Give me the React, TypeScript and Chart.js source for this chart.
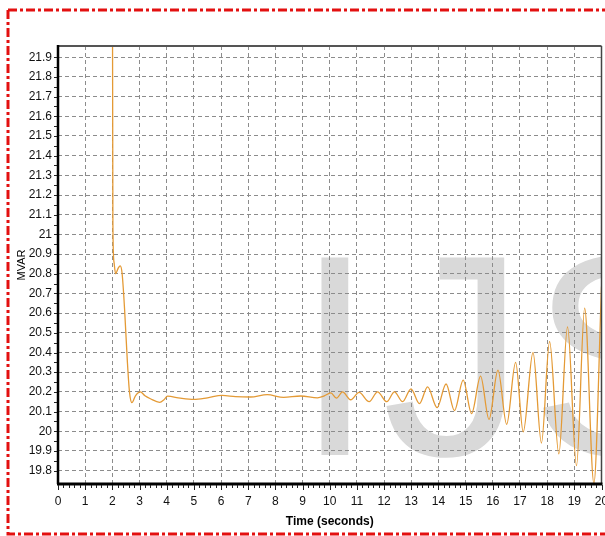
import React, { useEffect, useRef } from 'react';
import { Chart, registerables } from 'chart.js';

Chart.register(...registerables);

// ---- data ----
const timeSec = [
  2.0, 2.02, 2.06, 2.12, 2.22, 2.29, 2.36, 2.45, 2.55, 2.63, 2.72, 2.85, 3.03, 3.2, 3.4,
  3.74, 3.9, 4.03, 4.5, 5.0, 5.5, 6.04, 6.53, 7.08, 7.7, 8.3, 8.93, 9.55, 9.8, 10.04,
  10.25, 10.47, 10.77, 11.08, 11.45, 11.76, 12.1, 12.38, 12.68, 12.99, 13.3, 13.6, 13.95,
  14.28, 14.59, 14.91, 15.22, 15.55, 15.86, 16.19, 16.51, 16.84, 17.12, 17.48, 17.79,
  18.09, 18.43, 18.75, 19.08, 19.38, 19.72, 20.0,
];
const mvar = [
  22.6, 21.05, 20.86, 20.8, 20.83, 20.84, 20.8, 20.62, 20.36, 20.2, 20.145, 20.18, 20.2, 20.18, 20.165,
  20.147, 20.16, 20.178, 20.168, 20.162, 20.17, 20.182, 20.176, 20.174, 20.186, 20.172, 20.179, 20.17, 20.18, 20.195,
  20.168, 20.2, 20.16, 20.197, 20.15, 20.2, 20.15, 20.2, 20.15, 20.215, 20.14, 20.225, 20.12,
  20.24, 20.105, 20.26, 20.09, 20.28, 20.06, 20.31, 20.035, 20.35, 19.997, 20.4, 19.94,
  20.456, 19.885, 20.53, 19.825, 20.625, 19.735, 20.735,
];
const xTicks = [0, 1, 2, 3, 4, 5, 6, 7, 8, 9, 10, 11, 12, 13, 14, 15, 16, 17, 18, 19, 20];
const yTicks = [
  19.8, 19.9, 20.0, 20.1, 20.2, 20.3, 20.4, 20.5, 20.6, 20.7, 20.8,
  20.9, 21.0, 21.1, 21.2, 21.3, 21.4, 21.5, 21.6, 21.7, 21.8, 21.9,
];
const xMin = 0;
const xMax = 20;
const yMin = 19.732;
const yMax = 21.957;
const xMinorStep = 0.2;
const yMinorStep = 0.05;
const xTitle = 'Time (seconds)';
const yTitle = 'MVAR';
const watermark = ['I', 'J', 'S'];

const FONT = '"Liberation Sans", Arial, sans-serif';

const decor = {
  id: 'decor',
  beforeDraw(chart: any) {
    const { ctx, chartArea: a } = chart;
    ctx.save();
    ctx.fillStyle = '#ffffff';
    ctx.fillRect(0, 0, chart.width, chart.height);
    ctx.beginPath();
    ctx.rect(a.left, a.top, a.right - a.left, a.bottom - a.top);
    ctx.clip();
    ctx.fillStyle = '#d9d9d9';
    ctx.font = `287px ${FONT}`;
    ctx.textBaseline = 'alphabetic';
    ctx.textAlign = 'left';
    const xs = [295, 382, 530];
    watermark.forEach((ch, i) => ctx.fillText(ch, xs[i], 455));
    ctx.restore();
  },
  afterDraw(chart: any) {
    const { ctx, chartArea: a } = chart;
    const xs = chart.scales.x;
    const ys = chart.scales.y;
    ctx.save();
    // frame
    ctx.strokeStyle = '#555555';
    ctx.lineWidth = 2;
    ctx.beginPath();
    ctx.moveTo(a.left, a.top);
    ctx.lineTo(a.right, a.top);
    ctx.stroke();
    ctx.strokeStyle = '#444444';
    ctx.lineWidth = 1.5;
    ctx.beginPath();
    ctx.moveTo(a.right, a.top);
    ctx.lineTo(a.right, a.bottom);
    ctx.stroke();
    ctx.strokeStyle = '#000000';
    ctx.lineWidth = 2.5;
    ctx.beginPath();
    ctx.moveTo(a.left, a.top - 1);
    ctx.lineTo(a.left, a.bottom);
    ctx.stroke();
    ctx.lineWidth = 3;
    ctx.beginPath();
    ctx.moveTo(a.left - 1, a.bottom);
    ctx.lineTo(a.right + 1, a.bottom);
    ctx.stroke();
    // tick marks
    ctx.lineWidth = 1;
    ctx.strokeStyle = '#222222';
    ctx.beginPath();
    const nx = Math.round((xMax - xMin) / xMinorStep);
    for (let i = 0; i <= nx; i++) {
      const v = xMin + i * xMinorStep;
      const px = Math.round(xs.getPixelForValue(v)) + 0.5;
      const major = i % 5 === 0;
      ctx.moveTo(px, a.bottom + 1);
      ctx.lineTo(px, a.bottom + (major ? 6 : 4));
    }
    const ny = Math.round((21.9 - 19.8) / yMinorStep);
    for (let i = 0; i <= ny; i++) {
      const v = 19.8 + i * yMinorStep;
      const py = Math.round(ys.getPixelForValue(v)) + 0.5;
      ctx.moveTo(a.left - 1, py);
      ctx.lineTo(a.left - 4, py);
    }
    ctx.stroke();
    // red dash-dot border
    ctx.strokeStyle = '#e31010';
    ctx.lineWidth = 3;
    ctx.setLineDash([9, 3, 3, 3]);
    ctx.beginPath();
    ctx.moveTo(8, 10);
    ctx.lineTo(605, 10);
    ctx.moveTo(8, 10);
    ctx.lineTo(8, 534);
    ctx.lineTo(605, 534);
    ctx.stroke();
    ctx.restore();
  },
};

export default function App() {
  const ref = useRef<HTMLCanvasElement>(null);
  useEffect(() => {
    const points = timeSec.map((t, i) => ({ x: t, y: mvar[i] }));
    const chart = new Chart(ref.current as HTMLCanvasElement, {
      type: 'line',
      data: {
        datasets: [
          {
            data: points,
            borderColor: '#e49a35',
            borderWidth: 1.3,
            pointRadius: 0,
            cubicInterpolationMode: 'monotone',
            fill: false,
          },
        ],
      },
      options: {
        animation: false,
        responsive: false,
        devicePixelRatio: 1,
        layout: { padding: { left: 0, top: 46, right: 3.5, bottom: 0 } },
        plugins: { legend: { display: false }, tooltip: { enabled: false } },
        font: { family: FONT },
        scales: {
          x: {
            type: 'linear',
            min: xMin,
            max: xMax,
            afterBuildTicks: (s: any) => {
              s.ticks = xTicks.map((value) => ({ value }));
            },
            afterFit: (s: any) => {
              s.height = 52;
              s.paddingLeft = 0;
              s.paddingRight = 0;
            },
            ticks: {
              autoSkip: false,
              maxRotation: 0,
              padding: 10,
              color: '#111111',
              font: { family: FONT, size: 12 },
              callback: (v: any) => String(v),
            },
            grid: { color: '#8c8c8c', lineWidth: 1, drawTicks: false },
            border: { display: false, dash: [4, 3] },
            title: {
              display: true,
              text: xTitle,
              color: '#000000',
              font: { family: FONT, size: 12, weight: 'bold' },
              padding: { top: 0, bottom: 7 },
            },
          },
          y: {
            type: 'linear',
            min: yMin,
            max: yMax,
            afterBuildTicks: (s: any) => {
              s.ticks = yTicks.map((value) => ({ value }));
            },
            afterFit: (s: any) => {
              s.width = 58;
              s.paddingTop = 0;
              s.paddingBottom = 0;
            },
            ticks: {
              autoSkip: false,
              padding: 6,
              color: '#111111',
              font: { family: FONT, size: 12 },
              callback: (v: any) => String(Number(Number(v).toFixed(1))),
            },
            grid: { color: '#8c8c8c', lineWidth: 1, drawTicks: false },
            border: { display: false, dash: [4, 3] },
            title: {
              display: true,
              text: yTitle,
              color: '#000000',
              font: { family: FONT, size: 11 },
              padding: { top: 15, bottom: 0 },
            },
          },
        },
      } as any,
      plugins: [decor],
    });
    return () => chart.destroy();
  }, []);
  return (
    <div style={{ position: 'absolute', left: 0, top: 0, width: 605, height: 536 }}>
      <canvas ref={ref} width={605} height={536} style={{ display: 'block' }} />
    </div>
  );
}
